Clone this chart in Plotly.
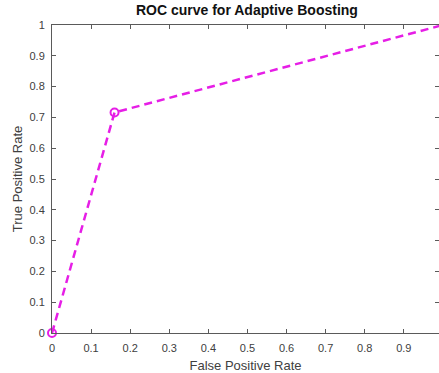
import plotly.graph_objects as go

fpr = [0.0, 0.16, 1.0]
tpr = [0.0, 0.716, 1.0]
x_ticks = [0, 0.1, 0.2, 0.3, 0.4, 0.5, 0.6, 0.7, 0.8, 0.9]
y_ticks = [0, 0.1, 0.2, 0.3, 0.4, 0.5, 0.6, 0.7, 0.8, 0.9, 1]
y_tick_labels = ["0", "0.1", "0.2", "0.3", "0.4", "0.5", "0.6", "0.7", "0.8", "0.9", "1"]
x_tick_labels = ["0", "0.1", "0.2", "0.3", "0.4", "0.5", "0.6", "0.7", "0.8", "0.9"]

col = "#e61ee6"
axcol = "#5a5a5a"
font = "Liberation Sans, Arial, sans-serif"

fig = go.Figure()
fig.add_trace(go.Scatter(
    x=fpr, y=tpr, mode="lines+markers",
    line=dict(color=col, width=2.5, dash="8px,5px"),
    marker=dict(symbol="circle-open", size=8, color=col, line=dict(width=2, color=col)),
    showlegend=False, cliponaxis=False,
))
# invisible trace on y2 for right-side ticks
fig.add_trace(go.Scatter(x=[0], y=[0], yaxis="y2", mode="markers",
                         marker=dict(opacity=0), showlegend=False, hoverinfo="skip"))

fig.update_layout(
    width=439, height=373,
    margin=dict(l=52, r=0, t=25, b=40),
    paper_bgcolor="white", plot_bgcolor="white",
    font=dict(family=font, color="#404040", size=11),
    title=dict(text="<b>ROC curve for Adaptive Boosting</b>", x=0.5625, xanchor="center",
               y=0.973, yanchor="middle", font=dict(size=14, color="#111111", family=font)),
    xaxis=dict(range=[0, 0.99], tickvals=x_ticks, ticktext=x_tick_labels,
               showgrid=False, zeroline=False, showline=True, linecolor=axcol, linewidth=1,
               mirror="ticks", ticks="inside", ticklen=4, tickcolor=axcol,
               ticklabelstandoff=5,
               title=dict(text="False Positive Rate", standoff=8, font=dict(size=13, color="#404040"))),
    yaxis=dict(range=[0, 1], tickvals=y_ticks, ticktext=y_tick_labels,
               showgrid=False, zeroline=False, showline=True, linecolor=axcol, linewidth=1,
               ticks="inside", ticklen=4, tickcolor=axcol, ticklabelstandoff=4,
               title=dict(text="True Positive Rate", standoff=3, font=dict(size=13, color="#404040"))),
    yaxis2=dict(range=[0, 1], overlaying="y", side="right", tickvals=y_ticks,
                showticklabels=False, showgrid=False, zeroline=False, showline=False,
                ticks="inside", ticklen=4, tickcolor=axcol),
)

fig.write_html("out.html")
